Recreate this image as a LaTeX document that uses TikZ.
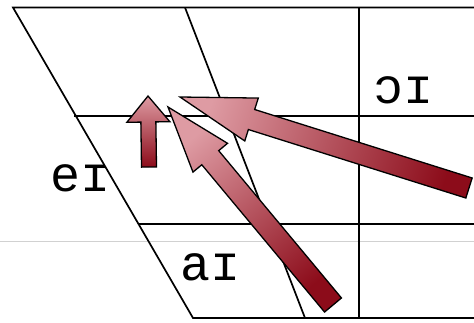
\documentclass[tikz,border=0pt]{standalone}
\usepackage{fontspec}
\newfontfamily\ipafont{Liberation Mono}
\usetikzlibrary{calc}
\definecolor{headpink}{RGB}{222,155,163}
\definecolor{taildark}{RGB}{140,12,26}
\tikzset{
  gridline/.style={line width=1.7pt, line join=miter},
  blockarrowstyle/.style={draw=black, line width=1.3pt, line join=miter, shading=axis, top color=headpink, bottom color=taildark},
  vowel/.style={inner sep=0pt, font=\ipafont\fontsize{50}{50}\selectfont}
}
\newcommand{\blockarrow}[6]{%
  \coordinate (ab) at ($(#2)!#5!(#1)$);
  \shade[blockarrowstyle, shading angle=#6]
    ($(#1)!#3!90:(#2)$) -- ($(ab)!#3!90:(#2)$) -- ($(ab)!#4!90:(#2)$) -- (#2)
    -- ($(ab)!#4!-90:(#2)$) -- ($(ab)!#3!-90:(#2)$) -- ($(#1)!#3!-90:(#2)$) -- cycle;
}
\begin{document}
\begin{tikzpicture}[x=1pt,y=1pt]
\useasboundingbox (0,0) rectangle (474,322);
% faint scan line
\draw[color=black!18, line width=0.6pt] (0,81) -- (474,81);
% chart
\draw[gridline] (474,314.5) -- (13,314.5) -- (193,4) -- (474,4);
\draw[gridline] (74,206) -- (474,206);
\draw[gridline] (139,98) -- (474,98);
\draw[gridline] (359,314.5) -- (359,4);
\draw[gridline] (185,314.5) -- (305,4);
% labels
\node[vowel] (oi) at (404,232) {ɔɪ};
\node[vowel] (ei) at (81,144) {eɪ};
\node[vowel] (ai) at (211,55) {aɪ};
% arrows
\coordinate (t1) at (149,155); \coordinate (p1) at (148,226);
\coordinate (t2) at (333,17);  \coordinate (p2) at (168,215);
\coordinate (t3) at (469,134); \coordinate (p3) at (180,225);
\blockarrow{t2}{p2}{11pt}{22.5pt}{66pt}{39.8}
\blockarrow{t3}{p3}{10.5pt}{22.5pt}{75pt}{72.5}
\blockarrow{t1}{p1}{7.5pt}{21.5pt}{26pt}{0}
\end{tikzpicture}
\end{document}
